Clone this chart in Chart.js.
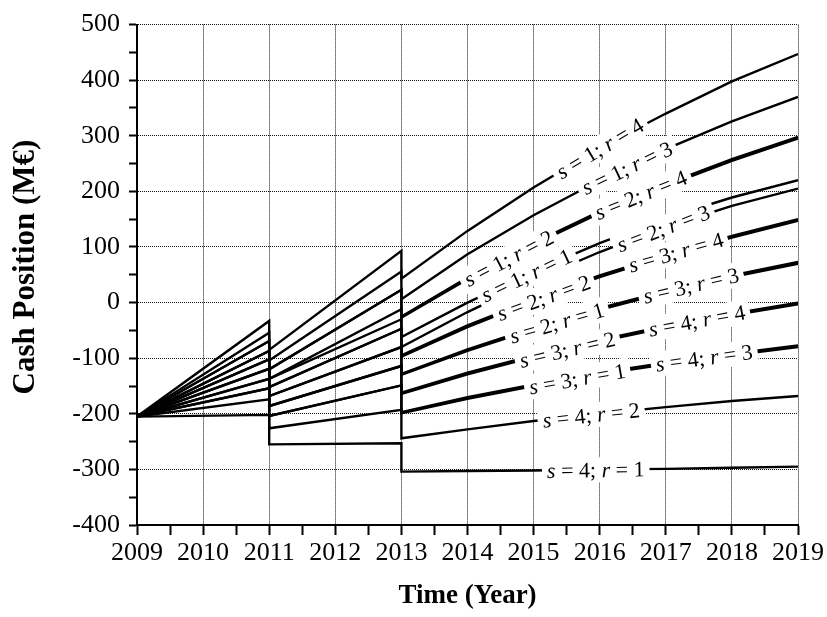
<!DOCTYPE html>
<html>
<head>
<meta charset="utf-8">
<script src="https://cdn.jsdelivr.net/npm/chart.js@4"></script>
<style>
  html, body { margin: 0; padding: 0; background: #fff; }
  canvas { display: block; }
</style>
</head>
<body>
<canvas id="cashChart" width="827" height="617"></canvas>
<script>
// time axis: investment drops at 2011 and 2013 show up as repeated years
const years = [2009, 2011, 2011, 2013, 2013, 2014, 2015, 2016, 2017, 2018, 2019];

// cash position (M€) per scenario s and rate r
const s1r4 = [-205, -33, -85, 93, 43, 129, 207, 278, 340, 398, 447];
const s1r3 = [-205, -54, -104, 56, 6, 87, 157, 220, 276, 326, 370];
const s1r2 = [-205, -69, -120, 23, -27, 42, 104, 161, 210, 255, 295];
const s1r1 = [-205, -87, -137, -12, -62, 0, 56, 107, 152, 189, 220];
const s2r4 = [-205, -69, -120, 23, -25, 45, 107, 164, 213, 258, 298];
const s2r3 = [-205, -87, -137, -30, -80, -17, 40, 91, 136, 174, 205];
const s2r2 = [-205, -102, -152, -47, -97, -44, 3, 46, 83, 117, 147];
const s2r1 = [-205, -119, -168, -80, -130, -87, -48, -13, 18, 46, 70];
const s3r4 = [-205, -102, -152, -47, -95, -41, 6, 49, 86, 120, 150];
const s3r3 = [-205, -119, -168, -80, -128, -84, -45, -10, 21, 49, 73];
const s3r2 = [-205, -137, -186, -114, -164, -129, -98, -70, -45, -23, -3];
const s3r1 = [-205, -154, -204, -149, -199, -173, -150, -129, -111, -95, -80];
const s4r4 = [-205, -137, -186, -114, -162, -126, -95, -67, -42, -20, 0];
const s4r3 = [-205, -154, -204, -149, -197, -170, -147, -126, -108, -92, -77];
const s4r2 = [-205, -174, -226, -193, -244, -228, -213, -200, -188, -177, -168];
const s4r1 = [-205, -202, -255, -253, -304, -303, -302, -300, -299, -297, -295];

const seriesS = [1, 1, 1, 1, 2, 2, 2, 2, 3, 3, 3, 3, 4, 4, 4, 4];
const seriesR = [4, 3, 2, 1, 4, 3, 2, 1, 4, 3, 2, 1, 4, 3, 2, 1];
const seriesValues = [s1r4, s1r3, s1r2, s1r1, s2r4, s2r3, s2r2, s2r1,
                      s3r4, s3r3, s3r2, s3r1, s4r4, s4r3, s4r2, s4r1];

// year along each curve where its "s = ; r = " label sits
const labelAt = [2016.0, 2016.41, 2014.62, 2014.89, 2016.62, 2016.96, 2015.15, 2015.35,
                 2017.15, 2017.38, 2015.51, 2015.66, 2017.47, 2017.58, 2015.87, 2015.94];

const serif = '"Liberation Serif", "Times New Roman", serif';

const curveLabels = {
  id: 'curveLabels',
  afterDatasetsDraw(chart) {
    const ctx = chart.ctx;
    const xs = chart.scales.x, ys = chart.scales.y;
    const fontIt = 'italic 22px ' + serif;
    const fontUp = '22px ' + serif;
    const items = [];

    chart.data.datasets.forEach((ds, i) => {
      const at = labelAt[i];
      const pts = ds.data;
      let k = pts.length - 2;
      for (let j = 0; j < pts.length - 1; j++) {
        if (pts[j + 1].x > pts[j].x && pts[j].x <= at && at <= pts[j + 1].x) { k = j; break; }
      }
      const x0 = xs.getPixelForValue(pts[k].x), y0 = ys.getPixelForValue(pts[k].y);
      const x1 = xs.getPixelForValue(pts[k + 1].x), y1 = ys.getPixelForValue(pts[k + 1].y);
      const t = (at - pts[k].x) / (pts[k + 1].x - pts[k].x);
      const parts = [
        { text: 's', font: fontIt },
        { text: ' = ' + seriesS[i] + '; ', font: fontUp },
        { text: 'r', font: fontIt },
        { text: ' = ' + seriesR[i], font: fontUp }
      ];
      let w = 0;
      parts.forEach(p => { ctx.font = p.font; p.w = ctx.measureText(p.text).width; w += p.w; });
      items.push({ x: x0 + (x1 - x0) * t, y: y0 + (y1 - y0) * t, a: Math.atan2(y1 - y0, x1 - x0), w, parts });
    });

    // white boxes first so no box hides a neighbouring label
    items.forEach(it => {
      ctx.save();
      ctx.translate(it.x, it.y);
      ctx.rotate(it.a);
      ctx.fillStyle = '#fff';
      ctx.fillRect(-it.w / 2 - 5, -12, it.w + 10, 25);
      ctx.restore();
    });

    items.forEach(it => {
      ctx.save();
      ctx.translate(it.x, it.y);
      ctx.rotate(it.a);
      ctx.fillStyle = '#000';
      ctx.textBaseline = 'middle';
      ctx.textAlign = 'left';
      let cx = -it.w / 2;
      it.parts.forEach(p => {
        ctx.font = p.font;
        ctx.fillText(p.text, cx, 2);
        cx += p.w;
      });
      ctx.restore();
    });
  }
};

const datasets = seriesValues.map((vals, i) => ({
  label: 's = ' + seriesS[i] + '; r = ' + seriesR[i],
  data: years.map((x, j) => ({ x: x, y: vals[j] })),
  borderColor: '#000',
  borderWidth: 2.4,
  pointRadius: 0,
  fill: false,
  tension: 0
}));

const isMajor = (ctx, step) => ctx.tick && Math.abs(ctx.tick.value / step - Math.round(ctx.tick.value / step)) < 1e-6;

new Chart(document.getElementById('cashChart').getContext('2d'), {
  type: 'line',
  data: { datasets: datasets },
  plugins: [curveLabels],
  options: {
    responsive: false,
    animation: false,
    layout: { padding: { top: 23, right: 28, bottom: 0, left: 0 } },
    plugins: { legend: { display: false }, tooltip: { enabled: false } },
    scales: {
      x: {
        type: 'linear',
        min: 2009,
        max: 2019,
        afterFit(scale) { scale.height = 92; },
        border: { display: true, color: '#000', width: 2, dash: [1, 1] },
        grid: {
          color: ctx => isMajor(ctx, 1) ? '#111' : 'rgba(0,0,0,0)',
          lineWidth: 1,
          tickColor: '#000',
          tickWidth: 2,
          tickLength: 10
        },
        ticks: {
          stepSize: 0.5,
          autoSkip: false,
          maxRotation: 0,
          padding: 3,
          color: '#000',
          font: { family: serif, size: 26 },
          callback: v => Number.isInteger(v) ? String(v) : ''
        },
        title: {
          display: true,
          text: 'Time (Year)',
          color: '#000',
          font: { family: serif, size: 27, weight: 'bold' },
          padding: { top: 0, bottom: 5 }
        }
      },
      y: {
        min: -400,
        max: 500,
        afterFit(scale) { scale.width = 137; },
        border: { display: true, color: '#000', width: 2, dash: [1, 1] },
        grid: {
          color: ctx => isMajor(ctx, 100) ? '#111' : 'rgba(0,0,0,0)',
          lineWidth: 1,
          tickColor: '#000',
          tickWidth: 2,
          tickLength: 8
        },
        ticks: {
          stepSize: 50,
          autoSkip: false,
          padding: 9,
          color: '#000',
          font: { family: serif, size: 26 },
          callback: v => v % 100 === 0 ? String(v) : ''
        },
        title: {
          display: true,
          text: '  Cash Position (M€)',
          color: '#000',
          font: { family: serif, size: 31, weight: 'bold' },
          padding: { top: 7, bottom: 0 }
        }
      }
    }
  }
});
</script>
</body>
</html>
